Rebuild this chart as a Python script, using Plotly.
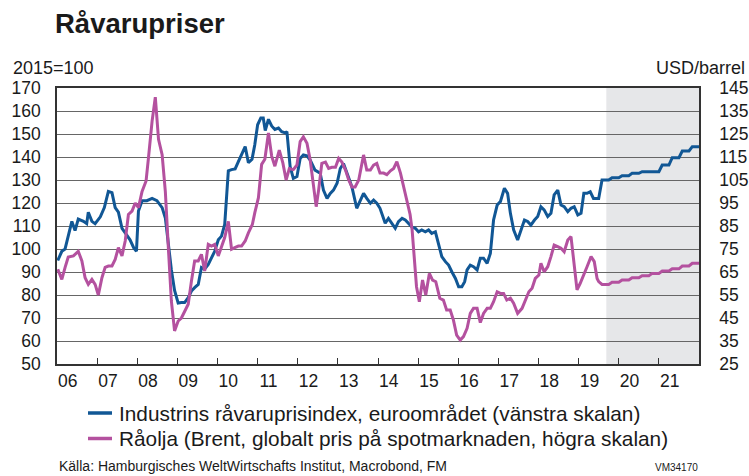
import plotly.graph_objects as go

# ---------------- data ----------------
# Industrial raw material price index, euro area (2015=100), left scale
blue_hist_x = [2006.02, 2006.12, 2006.2, 2006.28, 2006.37, 2006.45, 2006.53, 2006.66, 2006.74, 2006.78,
               2006.87, 2006.95, 2007.08, 2007.18, 2007.28, 2007.37, 2007.45, 2007.53, 2007.62, 2007.7,
               2007.82, 2007.91, 2007.98, 2008.03, 2008.12, 2008.24, 2008.37, 2008.49, 2008.62, 2008.7,
               2008.77, 2008.85, 2008.93, 2009.02, 2009.1, 2009.18, 2009.27, 2009.35, 2009.43, 2009.52,
               2009.6, 2009.68, 2009.77, 2009.85, 2009.93, 2010.02, 2010.1, 2010.18, 2010.27, 2010.35,
               2010.44, 2010.52, 2010.6, 2010.69, 2010.77, 2010.86, 2010.93, 2011.0, 2011.08, 2011.14,
               2011.19, 2011.27, 2011.35, 2011.43, 2011.52, 2011.6, 2011.69, 2011.73, 2011.81, 2011.89,
               2011.98, 2012.06, 2012.14, 2012.23, 2012.31, 2012.43, 2012.56, 2012.64, 2012.73, 2012.81,
               2012.89, 2012.98, 2013.06, 2013.14, 2013.26, 2013.35, 2013.47, 2013.56, 2013.64, 2013.72,
               2013.81, 2013.89, 2013.97, 2014.05, 2014.18, 2014.26, 2014.35, 2014.43, 2014.51, 2014.6,
               2014.68, 2014.76, 2014.85, 2014.93, 2015.01, 2015.09, 2015.18, 2015.26, 2015.34, 2015.43,
               2015.51, 2015.59, 2015.68, 2015.76, 2015.84, 2015.93, 2016.01, 2016.09, 2016.16, 2016.22,
               2016.3, 2016.38, 2016.47, 2016.55, 2016.63, 2016.72, 2016.8, 2016.88, 2016.97, 2017.05,
               2017.15, 2017.23, 2017.3, 2017.38, 2017.48, 2017.56, 2017.65, 2017.73, 2017.81, 2017.9,
               2017.98, 2018.06, 2018.14, 2018.23, 2018.31, 2018.39, 2018.48, 2018.56, 2018.64, 2018.73,
               2018.81, 2018.89, 2018.98, 2019.06, 2019.13, 2019.21, 2019.29, 2019.37, 2019.46, 2019.5]
blue_hist_y = [95, 99, 100, 106, 112, 108, 113, 112, 111, 116,
               112, 111, 114, 118, 125, 124.5, 118, 116, 109, 107,
               104, 100.6, 99, 116.5, 121, 121, 122, 121, 118, 113.5,
               103, 91, 82, 76.5, 76.7, 76.7, 78.8, 81.7, 83.2, 84.6,
               92, 91.3, 93.3, 96.2, 99, 104, 105.6, 110.7, 134, 134.5,
               134.8, 138, 141, 144.5, 137.5, 139, 145.4, 154, 157, 157,
               151.5, 156.4, 153.5, 152, 152.6, 151, 150.5, 151, 135.8, 130.7,
               131.5, 139.4, 140.9, 140.5, 138.7, 134.3, 133, 125.6, 122, 124.2,
               125.6, 128.6, 135, 137.2, 131.4, 127, 117.7, 121.3, 124.2, 122,
               119.9, 121.3, 119.9, 117.7, 111.2, 113.3, 111.2, 109, 111.9, 113.3,
               112.6, 111.2, 109.5, 109, 107.5, 108.3, 107.5, 108.3, 106.8, 107.5,
               102.5, 96.7, 94.5, 93, 90.1, 87.2, 83.6, 83.6, 85.8, 90.9,
               93, 92.3, 90.9, 96, 96, 93.8, 98.1, 112.6, 119.1, 120.6,
               126.4, 124.2, 115.5, 108.3, 103.9, 108.3, 112.6, 112, 110.4, 112.6,
               114.1, 118.4, 117, 114.1, 115.5, 123.5, 125.6, 119.1, 118.4, 116.2,
               117.7, 118.4, 114.8, 115.5, 124.2, 124.2, 124.9, 122, 122, 122]

# Brent crude oil, USD/barrel, right scale
pink_hist_x = [2006.02, 2006.12, 2006.2, 2006.28, 2006.41, 2006.53, 2006.62, 2006.7, 2006.78, 2006.87,
               2006.95, 2007.03, 2007.12, 2007.2, 2007.28, 2007.37, 2007.45, 2007.53, 2007.62, 2007.7,
               2007.78, 2007.87, 2007.95, 2008.03, 2008.12, 2008.22, 2008.28, 2008.37, 2008.45, 2008.53,
               2008.62, 2008.7, 2008.78, 2008.85, 2008.93, 2009.02, 2009.1, 2009.18, 2009.27, 2009.35,
               2009.43, 2009.52, 2009.6, 2009.68, 2009.77, 2009.85, 2009.93, 2010.02, 2010.1, 2010.18,
               2010.27, 2010.35, 2010.43, 2010.52, 2010.6, 2010.69, 2010.77, 2010.87, 2010.93, 2011.02,
               2011.1, 2011.18, 2011.27, 2011.35, 2011.43, 2011.54, 2011.63, 2011.71, 2011.79, 2011.89,
               2011.98, 2012.06, 2012.14, 2012.23, 2012.31, 2012.39, 2012.46, 2012.52, 2012.6, 2012.69,
               2012.77, 2012.85, 2012.94, 2013.02, 2013.1, 2013.19, 2013.27, 2013.35, 2013.43, 2013.52,
               2013.64, 2013.72, 2013.81, 2013.89, 2013.97, 2014.05, 2014.14, 2014.22, 2014.31, 2014.39,
               2014.47, 2014.56, 2014.64, 2014.72, 2014.8, 2014.85, 2014.89, 2014.96, 2015.03, 2015.11,
               2015.19, 2015.28, 2015.36, 2015.44, 2015.54, 2015.63, 2015.71, 2015.8, 2015.88, 2015.96,
               2016.05, 2016.13, 2016.22, 2016.3, 2016.38, 2016.47, 2016.55, 2016.63, 2016.72, 2016.8,
               2016.88, 2016.97, 2017.05, 2017.13, 2017.21, 2017.3, 2017.38, 2017.48, 2017.59, 2017.67,
               2017.76, 2017.84, 2017.92, 2018.01, 2018.06, 2018.14, 2018.23, 2018.31, 2018.39, 2018.48,
               2018.56, 2018.64, 2018.73, 2018.81, 2018.88, 2018.96, 2019.04, 2019.13, 2019.21, 2019.31,
               2019.39, 2019.46, 2019.5]
pink_hist_y = [66.2, 61.8, 66.9, 71.5, 72, 74, 69.8, 62.5, 59.6, 61.8,
               59.6, 55, 62.5, 67, 67.6, 67.6, 70.5, 75.6, 72, 78.5,
               90, 91.5, 95, 93, 100, 104.6, 114.7, 130.6, 141, 122.7,
               116, 100, 74, 52.4, 39.4, 43.7, 45, 48, 51, 61,
               69.8, 69.8, 72.7, 65.4, 77, 76.3, 77, 72, 75.6, 80,
               87, 74.9, 75.6, 76.3, 76.3, 78.5, 82, 85.7, 90.8, 97.3,
               111.8, 114, 125.5, 115.4, 111, 118, 112.3, 105, 110, 109.5,
               111.5, 121.7, 123.8, 121, 113.7, 103.6, 93.4, 100.6, 112.2, 112.8,
               110, 110.5, 110.5, 114.4, 112.8, 109.3, 105, 102, 102, 105,
               115.9, 109.3, 109.3, 111.5, 112.2, 108, 108, 107.3, 109, 110,
               113, 108, 102, 96.3, 90, 83.3, 73, 58.6, 52.1, 61.5,
               55, 64.4, 61.5, 60.8, 53.6, 52.8, 48.5, 48.5, 44.1, 37.6,
               35.4, 36.9, 40.5, 47, 49.2, 49.2, 43, 47, 49.2, 49.2,
               52.1, 56.4, 55.7, 55.7, 52.8, 53.6, 51.4, 47, 49.2, 52.8,
               56.4, 57.9, 62.2, 63.7, 68.8, 65.1, 67.3, 71.7, 76.7, 76,
               75.3, 73.8, 78.9, 80.4, 70.2, 57.2, 60.1, 64.4, 67.3, 71.7,
               69.5, 62.2, 60.8]

# Forecast period (monthly points, quarterly levels)
fc_x = [2019.583, 2019.667, 2019.75, 2019.833, 2019.917, 2020.0,
        2020.083, 2020.167, 2020.25, 2020.333, 2020.417, 2020.5,
        2020.583, 2020.667, 2020.75, 2020.833, 2020.917, 2021.0,
        2021.083, 2021.167, 2021.25, 2021.333, 2021.417, 2021.5,
        2021.583, 2021.667, 2021.75, 2021.833, 2021.917, 2022.0]
blue_fc_y = [130, 130, 130, 131, 131, 131,
             131.9, 131.9, 131.9, 132.9, 132.9, 132.9,
             133.6, 133.6, 133.6, 133.6, 133.6, 133.6,
             136.5, 136.5, 136.5, 139.7, 139.7, 139.7,
             142.6, 142.6, 142.6, 144.5, 144.5, 144.5]
pink_fc_y = [59.6, 59.6, 59.6, 60.5, 60.5, 60.5,
             61.5, 61.5, 61.5, 62.5, 62.5, 62.5,
             63.4, 63.4, 63.4, 64.4, 64.4, 64.4,
             65.4, 65.4, 65.4, 66.4, 66.4, 66.4,
             67.6, 67.6, 67.6, 68.8, 68.8, 68.8]
forecast_start = 2019.69

years = list(range(2006, 2022))
year_labels = ['06', '07', '08', '09', '10', '11', '12', '13', '14', '15', '16', '17', '18', '19', '20', '21']
legend_labels = ['Industrins råvaruprisindex, euroområdet (vänstra skalan)',
                 'Råolja (Brent, globalt pris på spotmarknaden, högra skalan)']

# ---------------- styling ----------------
BLUE = '#115795'
PINK = '#b4519f'
FONT = 'Liberation Sans, Arial, sans-serif'
TXT = '#1a1a1a'
W, H = 749, 476
ML, MR, MT, MB = 57, 50, 88, 112
PW, PH = W - ML - MR, H - MT - MB


def px_x(p):
    return (p - ML) / PW


def px_y(p):
    return (MT + PH - p) / PH


fig = go.Figure()
fig.add_trace(go.Scatter(x=blue_hist_x + fc_x, y=blue_hist_y + blue_fc_y, mode='lines',
                         line=dict(color=BLUE, width=3), name=legend_labels[0],
                         showlegend=False, yaxis='y', hoverinfo='skip'))
fig.add_trace(go.Scatter(x=pink_hist_x + fc_x, y=pink_hist_y + pink_fc_y, mode='lines',
                         line=dict(color=PINK, width=3), name=legend_labels[1],
                         showlegend=False, yaxis='y2', hoverinfo='skip'))

# forecast shading
fig.add_shape(type='rect', xref='x', yref='paper', x0=forecast_start, x1=2022, y0=0, y1=1,
              fillcolor='#e6e7e9', line=dict(width=0), layer='below')

# legend (manual)
for i, (lab, col) in enumerate(zip(legend_labels, [BLUE, PINK])):
    yy = px_y(413 + 25.5 * i)
    fig.add_shape(type='line', xref='paper', yref='paper', x0=px_x(88), x1=px_x(112), y0=yy, y1=yy,
                  line=dict(color=col, width=3.5))
    fig.add_annotation(xref='paper', yref='paper', x=px_x(117), y=yy, text=lab, showarrow=False,
                       xanchor='left', yanchor='middle', font=dict(family=FONT, size=20.8, color=TXT))

# texts
fig.add_annotation(xref='paper', yref='paper', x=px_x(53), y=px_y(23), text='<b>Råvarupriser</b>',
                   showarrow=False, xanchor='left', yanchor='middle',
                   font=dict(family=FONT, size=27.5, color=TXT))
fig.add_annotation(xref='paper', yref='paper', x=px_x(11), y=px_y(68), text='2015=100',
                   showarrow=False, xanchor='left', yanchor='middle',
                   font=dict(family=FONT, size=18, color=TXT))
fig.add_annotation(xref='paper', yref='paper', x=px_x(747), y=px_y(68), text='USD/barrel',
                   showarrow=False, xanchor='right', yanchor='middle',
                   font=dict(family=FONT, size=18, color=TXT))
fig.add_annotation(xref='paper', yref='paper', x=px_x(57), y=px_y(466),
                   text='Källa: Hamburgisches WeltWirtschafts Institut, Macrobond, FM',
                   showarrow=False, xanchor='left', yanchor='middle',
                   font=dict(family=FONT, size=14, color=TXT))
fig.add_annotation(xref='paper', yref='paper', x=px_x(700), y=px_y(467), text='VM34170',
                   showarrow=False, xanchor='right', yanchor='middle',
                   font=dict(family=FONT, size=10, color=TXT))

fig.update_layout(
    width=W, height=H, autosize=False,
    margin=dict(l=ML, r=MR, t=MT, b=MB, autoexpand=False),
    paper_bgcolor='white', plot_bgcolor='rgba(0,0,0,0)',
    font=dict(family=FONT, color=TXT),
    xaxis=dict(range=[2006, 2022], tickmode='array', tickvals=[y + 0.27 for y in years],
               ticktext=year_labels, ticks='', showgrid=False, zeroline=False, automargin=False,
               showline=True, linecolor='#333333', linewidth=1.5, mirror=True,
               tickfont=dict(size=17.5, color=TXT),
               minor=dict(tickmode='array', tickvals=years[1:], ticks='inside', ticklen=6,
                          tickcolor='#333333', tickwidth=1, showgrid=False)),
    yaxis=dict(range=[50, 170], tickmode='linear', tick0=50, dtick=10, showgrid=True,
               gridcolor='#666666', gridwidth=1.3, zeroline=False, showline=True, automargin=False,
               linecolor='#333333', linewidth=1.5, mirror=True, ticks='',
               ticklabelstandoff=11, tickfont=dict(size=17.5, color=TXT)),
    yaxis2=dict(range=[25, 145], tickmode='linear', tick0=25, dtick=10, overlaying='y', side='right',
                showgrid=False, zeroline=False, showline=True, linecolor='#333333', linewidth=1.5,
                automargin=False, ticks='', ticklabelstandoff=15, tickfont=dict(size=17.5, color=TXT)),
)

fig.write_html('out.html', config={'displayModeBar': False},
               post_script="document.body.style.margin='0';")
